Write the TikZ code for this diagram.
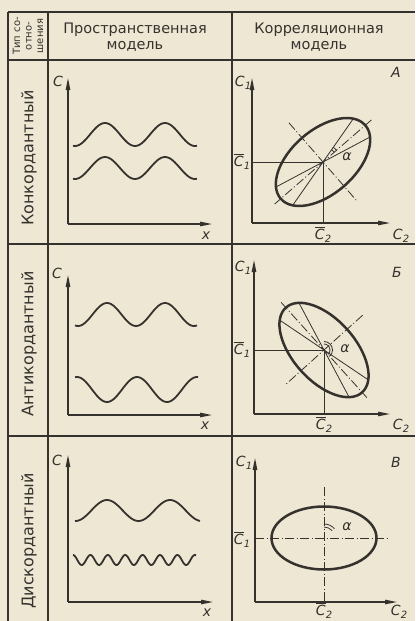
\documentclass[tikz,border=0pt]{standalone}
\usepackage{fontspec}
\setmainfont{DejaVu Sans}
\definecolor{paper}{HTML}{EDE7D4}
\definecolor{ink}{HTML}{35322D}
\usetikzlibrary{arrows.meta}
\newcommand{\clab}[1]{\textit{C}\kern0.3pt\raisebox{-0.45ex}{\fontsize{10}{10}\selectfont\textit{#1}}}
\newcommand{\cmean}[1]{$\overline{\mbox{\textit{C}}}$\kern0.3pt\raisebox{-0.45ex}{\fontsize{10}{10}\selectfont\textit{#1}}}
\tikzset{
  tabline/.style={ink,line width=1.6pt},
  axarr/.style={ink,line width=1.1pt,-{Triangle[length=12pt,width=4.4pt]}},
  wave/.style={ink,line width=1.8pt,smooth},
  oval/.style={ink,line width=2.5pt},
  chord/.style={ink,line width=0.8pt},
  cline/.style={ink,line width=0.8pt,dash pattern=on 9pt off 2.5pt on 1pt off 2.5pt},
  guide/.style={ink,line width=0.9pt},
  hdr/.style={font=\fontsize{14.5}{16}\selectfont,align=center,text=ink,inner sep=0pt},
  rowlbl/.style={font=\fontsize{16}{18}\selectfont,rotate=90,text=ink,inner sep=0pt},
  lbl/.style={font=\fontsize{14}{16}\selectfont,text=ink,inner sep=0pt}
}
\begin{document}
\begin{tikzpicture}[x=1pt,y=1pt]
  \fill[paper] (0,0) rectangle (415,-621);
  \useasboundingbox (0,0) rectangle (415,-621);
  % table rules
  \foreach \yy in {12,60,244,436} \draw[tabline] (8,-\yy) -- (415,-\yy);
  \foreach \xx in {8,48,232} \draw[tabline] (\xx,-12) -- (\xx,-621);
  % header
  \node[font=\fontsize{10}{11.5}\selectfont,rotate=90,align=center,text=ink,inner sep=0pt]
       (htype) at (28,-36) {Тип со-\\отно-\\шения};
  \node[hdr] (hspace) at (135,-37) {Пространственная\\модель};
  \node[hdr] (hcorr) at (319,-37) {Корреляционная\\модель};
  \node[rowlbl] (rconc) at (29,-158) {Конкордантный};
  \node[rowlbl] (ranti) at (29,-344) {Антикордантный};
  \node[rowlbl] (rdisc) at (29,-541) {Дискордантный};

  % spatial model, row 1
  \coordinate (s1) at (68,-224);
  \coordinate (s1y) at (68,-78);
  \coordinate (s1x) at (212,-224);
  \draw[axarr] (s1) -- (s1y);
  \draw[axarr] (s1) -- (s1x);
  \node[lbl] (s1c) at (58,-81) {\textit{C}};
  \node[lbl] (s1t) at (206,-236) {\textit{x}};
  \draw[wave] plot[domain=73:197,samples=80] (\x,{-134.5+11.5*cos((\x-105)/60*360)});
  \draw[wave] plot[domain=73:197,samples=80] (\x,{-168+11*cos((\x-105)/60*360)});
  % spatial model, row 2
  \coordinate (s2) at (68,-415);
  \coordinate (s2y) at (68,-275);
  \coordinate (s2x) at (212,-415);
  \draw[axarr] (s2) -- (s2y);
  \draw[axarr] (s2) -- (s2x);
  \node[lbl] (s2c) at (57,-273) {\textit{C}};
  \node[lbl] (s2t) at (205,-426) {\textit{x}};
  \draw[wave] plot[domain=75:197,samples=80] (\x,{-314.5+11.5*cos((\x-107)/58*360)});
  \draw[wave] plot[domain=75:198,samples=80] (\x,{-389.5-12.5*cos((\x-107)/60*360)});
  % spatial model, row 3
  \coordinate (s3) at (68,-602);
  \coordinate (s3y) at (68,-455);
  \coordinate (s3x) at (213,-602);
  \draw[axarr] (s3) -- (s3y);
  \draw[axarr] (s3) -- (s3x);
  \node[lbl] (s3c) at (57,-460) {\textit{C}};
  \node[lbl] (s3t) at (207,-613) {\textit{x}};
  \draw[wave] plot[domain=75:200,samples=80] (\x,{-510.5+10.5*cos((\x-107)/63*360)});
  \draw[wave] plot[domain=73:196,samples=200] (\x,{-560+5*cos((\x-73)/17.4*360)});

  % correlation model, row 1 (A)
  \coordinate (k1) at (252,-223);
  \coordinate (k1y) at (252,-78);
  \coordinate (k1x) at (390,-223);
  \coordinate (e1) at (323,-162);
  \draw[axarr] (k1) -- (k1y);
  \draw[axarr] (k1) -- (k1x);
  \draw[guide] (k1 |- e1) -- (e1) -- (e1 |- k1);
  \draw[cline,shift={(e1)}] (41:64) -- (221:64);
  \draw[cline,shift={(e1)}] (131:52) -- (311:52);
  \draw[chord,shift={(e1)}] (28:52) -- (208:52);
  \draw[chord,shift={(e1)}] (55:52) -- (235:52);
  \draw[chord,shift={(e1)}] (41:15) arc[start angle=41,end angle=56,radius=15];
  \draw[chord,shift={(e1)}] (41:18) arc[start angle=41,end angle=56,radius=18];
  \draw[oval,rotate around={41:(e1)}] (e1) ellipse[x radius=56,y radius=32];
  \node[lbl] (k1c) at (243,-83) {\clab{1}};
  \node[lbl] (k1m) at (242,-162) {\cmean{1}};
  \node[lbl] (k1n) at (323,-235) {\cmean{2}};
  \node[lbl] (k1t) at (401,-236) {\clab{2}};
  \node[lbl] (k1a) at (347,-157) {\textit{α}};
  \node[lbl] (k1l) at (396,-72) {\textit{А}};
  % correlation model, row 2 (B)
  \coordinate (k2) at (254,-414);
  \coordinate (k2y) at (254,-260);
  \coordinate (k2x) at (390,-414);
  \coordinate (e2) at (324,-350);
  \draw[axarr] (k2) -- (k2y);
  \draw[axarr] (k2) -- (k2x);
  \draw[guide] (k2 |- e2) -- (e2) -- (e2 |- k2);
  \draw[cline,shift={(e2)}] (132:64) -- (312:64);
  \draw[cline,shift={(e2)}] (42:52) -- (222:52);
  \draw[chord,shift={(e2)}] (146:52) -- (326:52);
  \draw[chord,shift={(e2)}] (118:52) -- (298:52);
  \draw[chord,shift={(e2)}] (90:6) arc[start angle=90,end angle=-48,radius=6];
  \draw[chord,shift={(e2)}] (90:8.5) arc[start angle=90,end angle=-48,radius=8.5];
  \draw[oval,rotate around={-48:(e2)}] (e2) ellipse[x radius=57,y radius=31];
  \node[lbl] (k2c) at (243,-268) {\clab{1}};
  \node[lbl] (k2m) at (242,-350) {\cmean{1}};
  \node[lbl] (k2n) at (324,-425) {\cmean{2}};
  \node[lbl] (k2t) at (401,-426) {\clab{2}};
  \node[lbl] (k2a) at (345,-349) {\textit{α}};
  \node[lbl] (k2l) at (397,-272) {\textit{Б}};
  % correlation model, row 3 (C)
  \coordinate (k3) at (255,-602);
  \coordinate (k3y) at (255,-458);
  \coordinate (k3x) at (397,-602);
  \coordinate (e3) at (324,-538);
  \coordinate (e3r) at (387,-538);
  \coordinate (e3u) at (324,-487);
  \draw[axarr] (k3) -- (k3y);
  \draw[axarr] (k3) -- (k3x);
  \draw[cline] (k3 |- e3) -- (e3r);
  \draw[cline] (e3u) -- (e3 |- k3);
  \draw[chord,shift={(e3)}] (90:11) arc[start angle=90,end angle=42,radius=11];
  \draw[chord,shift={(e3)}] (90:14) arc[start angle=90,end angle=42,radius=14];
  \draw[oval] (e3) ellipse[x radius=52.5,y radius=31.5];
  \node[lbl] (k3c) at (244,-463) {\clab{1}};
  \node[lbl] (k3m) at (242,-540) {\cmean{1}};
  \node[lbl] (k3n) at (324,-611) {\cmean{2}};
  \node[lbl] (k3t) at (399,-612) {\clab{2}};
  \node[lbl] (k3a) at (347,-527) {\textit{α}};
  \node[lbl] (k3l) at (396,-462) {\textit{В}};
\end{tikzpicture}
\end{document}
